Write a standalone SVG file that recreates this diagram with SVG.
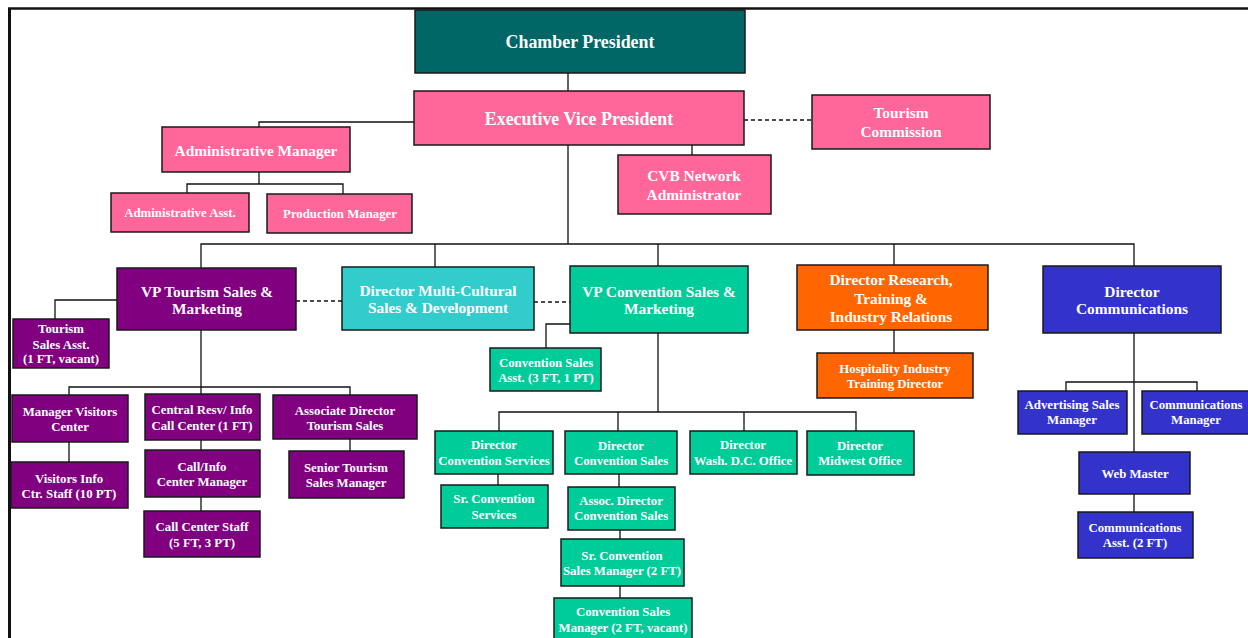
<svg xmlns="http://www.w3.org/2000/svg" width="1248" height="638" viewBox="0 0 1248 638">
<style>
.b{stroke:#1a1a1a;stroke-width:1.5}
.t{font-family:"Liberation Serif","Times New Roman",serif;font-weight:bold;fill:#fff;text-anchor:middle}
.l{font-size:17.9px}.m{font-size:15.4px}.s{font-size:12.8px}
.pk{fill:#FF6699}.pu{fill:#800080}.cy{fill:#33CCCC}.gr{fill:#00CC99}.or{fill:#FF6600}.bl{fill:#3333CC}.dt{fill:#006666}
.c{stroke:#111;stroke-width:1.3;fill:none}
.d{stroke:#111;stroke-width:1.3;fill:none;stroke-dasharray:4 3}
</style>
<rect width="1248" height="638" fill="#fff"/>
<g id="frame">
<line x1="9.5" y1="8" x2="9.5" y2="638" stroke="#111" stroke-width="3"/>
<line x1="8" y1="8.5" x2="1248" y2="8.5" stroke="#111" stroke-width="2.5"/>
</g>
<g id="connectors">
<path class="c" d="M568 73V91M568 145V244M692 145V155"/>
<path class="d" d="M744 120H812"/>
<path class="c" d="M414 122H259V127M259 172V184M187 193V184H343V194"/>
<path class="c" d="M201 268V244H1134V266M435 244V267M658 244V266M894 244V265"/>
<path class="d" d="M296 301H342M534 302H570"/>
<path class="c" d="M117 300H55V319M201 330V387M69 395V387H350V395M201 387V394M69 442V462M201 440V450M201 497V511M350 439V451"/>
<path class="c" d="M570 324H546V348M658 333V412M499 431V412H856V431M618 412V431M744 412V431M498 474V485M619 474V487M620 530V539M620 586V598"/>
<path class="c" d="M894 330V353"/>
<path class="c" d="M1134 333V452M1066 391V382H1197V391M1134 494V512"/>
</g>
<g id="n-chamber-president"><rect class="b dt" x="415" y="10" width="330" height="63"/><text class="t l" x="580" y="48">Chamber President</text></g>
<g id="n-evp"><rect class="b pk" x="414" y="91" width="330" height="54"/><text class="t l" x="579" y="125">Executive Vice President</text></g>
<g id="n-tourism-commission"><rect class="b pk" x="812" y="95" width="178" height="54"/><text class="t m" x="901" y="118">Tourism</text><text class="t m" x="901" y="137">Commission</text></g>
<g id="n-cvb"><rect class="b pk" x="618" y="155" width="153" height="59"/><text class="t m" x="694" y="181">CVB Network</text><text class="t m" x="694" y="200">Administrator</text></g>
<g id="n-admin-manager"><rect class="b pk" x="162" y="127" width="188" height="45"/><text class="t m" x="256" y="156">Administrative Manager</text></g>
<g id="n-admin-asst"><rect class="b pk" x="111" y="193" width="138" height="39"/><text class="t s" x="180" y="217">Administrative Asst.</text></g>
<g id="n-production-manager"><rect class="b pk" x="267" y="194" width="145" height="39"/><text class="t s" x="340" y="218">Production Manager</text></g>

<g id="n-vp-tourism"><rect class="b pu" x="117" y="268" width="179" height="62"/><text class="t m" x="207" y="297">VP Tourism Sales &amp;</text><text class="t m" x="207" y="314">Marketing</text></g>
<g id="n-tourism-sales-asst"><rect class="b pu" x="13" y="319" width="96" height="49"/><text class="t s" x="61" y="333">Tourism</text><text class="t s" x="61" y="349">Sales Asst.</text><text class="t s" x="61" y="363">(1 FT, vacant)</text></g>
<g id="n-manager-visitors"><rect class="b pu" x="12" y="395" width="116" height="47"/><text class="t s" x="70" y="416">Manager Visitors</text><text class="t s" x="70" y="431">Center</text></g>
<g id="n-visitors-staff"><rect class="b pu" x="11" y="462" width="117" height="46"/><text class="t s" x="69" y="483">Visitors Info</text><text class="t s" x="69" y="498">Ctr. Staff (10 PT)</text></g>
<g id="n-central-resv"><rect class="b pu" x="145" y="394" width="115" height="46"/><text class="t s" x="202" y="414">Central Resv/ Info</text><text class="t s" x="202" y="430">Call Center (1 FT)</text></g>
<g id="n-call-info"><rect class="b pu" x="145" y="450" width="115" height="47"/><text class="t s" x="202" y="471">Call/Info</text><text class="t s" x="202" y="486">Center Manager</text></g>
<g id="n-call-staff"><rect class="b pu" x="144" y="511" width="116" height="46"/><text class="t s" x="202" y="531">Call Center Staff</text><text class="t s" x="202" y="547">(5 FT, 3 PT)</text></g>
<g id="n-assoc-tourism"><rect class="b pu" x="273" y="395" width="144" height="44"/><text class="t s" x="345" y="415">Associate Director</text><text class="t s" x="345" y="430">Tourism Sales</text></g>
<g id="n-senior-tourism"><rect class="b pu" x="289" y="451" width="115" height="47"/><text class="t s" x="346" y="472">Senior Tourism</text><text class="t s" x="346" y="487">Sales Manager</text></g>

<g id="n-multicultural"><rect class="b cy" x="342" y="267" width="192" height="63"/><text class="t m" x="438" y="296">Director Multi-Cultural</text><text class="t m" x="438" y="313">Sales &amp; Development</text></g>

<g id="n-vp-convention"><rect class="b gr" x="570" y="266" width="178" height="67"/><text class="t m" x="659" y="297">VP Convention Sales &amp;</text><text class="t m" x="659" y="314">Marketing</text></g>
<g id="n-conv-sales-asst"><rect class="b gr" x="490" y="348" width="111" height="43"/><text class="t s" x="546" y="367">Convention Sales</text><text class="t s" x="546" y="382">Asst.  (3 FT, 1 PT)</text></g>
<g id="n-dir-conv-services"><rect class="b gr" x="435" y="431" width="118" height="43"/><text class="t s" x="494" y="449">Director</text><text class="t s" x="494" y="465">Convention Services</text></g>
<g id="n-sr-conv-services"><rect class="b gr" x="441" y="485" width="107" height="43"/><text class="t s" x="494" y="503">Sr. Convention</text><text class="t s" x="494" y="519">Services</text></g>
<g id="n-dir-conv-sales"><rect class="b gr" x="565" y="431" width="112" height="43"/><text class="t s" x="621" y="450">Director</text><text class="t s" x="621" y="465">Convention Sales</text></g>
<g id="n-assoc-conv-sales"><rect class="b gr" x="568" y="487" width="107" height="43"/><text class="t s" x="621" y="505">Assoc. Director</text><text class="t s" x="621" y="520">Convention Sales</text></g>
<g id="n-sr-conv-sales-mgr"><rect class="b gr" x="561" y="539" width="123" height="47"/><text class="t s" x="622" y="560">Sr. Convention</text><text class="t s" x="622" y="575">Sales Manager (2 FT)</text></g>
<g id="n-conv-sales-mgr"><rect class="b gr" x="554" y="598" width="138" height="46"/><text class="t s" x="623" y="616">Convention Sales</text><text class="t s" x="623" y="632">Manager (2 FT, vacant)</text></g>
<g id="n-dir-wash"><rect class="b gr" x="690" y="431" width="107" height="43"/><text class="t s" x="743" y="449">Director</text><text class="t s" x="743" y="465">Wash. D.C. Office</text></g>
<g id="n-dir-midwest"><rect class="b gr" x="807" y="431" width="107" height="44"/><text class="t s" x="860" y="450">Director</text><text class="t s" x="860" y="465">Midwest Office</text></g>

<g id="n-dir-research"><rect class="b or" x="797" y="265" width="191" height="65"/><text class="t m" x="891" y="285">Director Research,</text><text class="t m" x="891" y="304">Training &amp;</text><text class="t m" x="891" y="322">Industry Relations</text></g>
<g id="n-hospitality"><rect class="b or" x="817" y="353" width="156" height="45"/><text class="t s" x="895" y="373">Hospitality Industry</text><text class="t s" x="895" y="388">Training Director</text></g>

<g id="n-dir-comm"><rect class="b bl" x="1043" y="266" width="178" height="67"/><text class="t m" x="1132" y="297">Director</text><text class="t m" x="1132" y="314">Communications</text></g>
<g id="n-adv-sales"><rect class="b bl" x="1018" y="391" width="109" height="43"/><text class="t s" x="1072" y="409">Advertising Sales</text><text class="t s" x="1072" y="424">Manager</text></g>
<g id="n-comm-manager"><rect class="b bl" x="1142" y="391" width="108" height="43"/><text class="t s" x="1196" y="409">Communications</text><text class="t s" x="1196" y="424">Manager</text></g>
<g id="n-web-master"><rect class="b bl" x="1079" y="452" width="111" height="42"/><text class="t s" x="1135" y="478">Web Master</text></g>
<g id="n-comm-asst"><rect class="b bl" x="1078" y="512" width="115" height="46"/><text class="t s" x="1135" y="532">Communications</text><text class="t s" x="1135" y="547">Asst. (2 FT)</text></g>
</svg>
